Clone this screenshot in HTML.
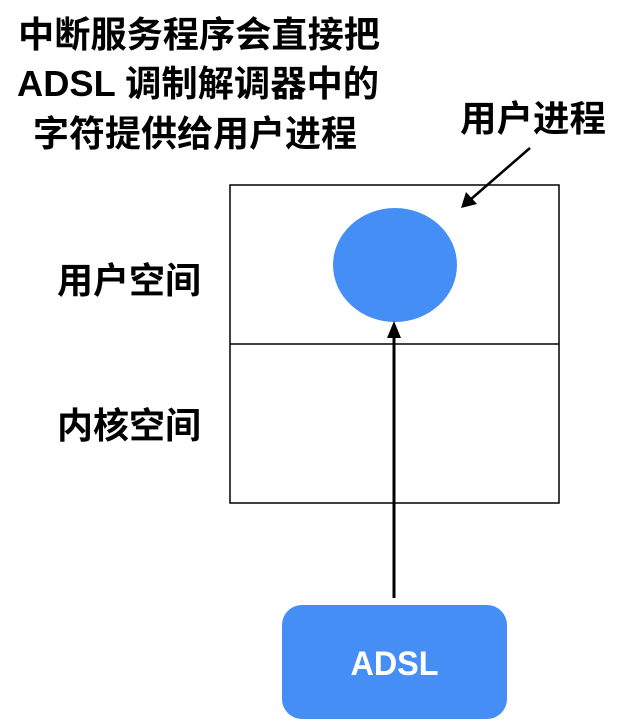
<!DOCTYPE html>
<html><head><meta charset="utf-8"><style>
body{margin:0;background:#fff;width:617px;height:727px;overflow:hidden;font-family:"Liberation Sans","Noto Sans CJK SC",sans-serif;}
</style></head><body>
<svg width="617" height="727" xmlns="http://www.w3.org/2000/svg" style="position:absolute;left:0;top:0">
<g font-family="Liberation Sans, Noto Sans CJK SC, sans-serif" font-weight="bold" fill="#000" font-size="36">
<text x="18" y="47" textLength="362" lengthAdjust="spacingAndGlyphs">中断服务程序会直接把</text>
<text x="17" y="96" textLength="362" lengthAdjust="spacingAndGlyphs">ADSL 调制解调器中的</text>
<text x="33" y="146" textLength="324" lengthAdjust="spacingAndGlyphs">字符提供给用户进程</text>
<text x="460" y="131" textLength="146" lengthAdjust="spacingAndGlyphs">用户进程</text>
<text x="57" y="293" textLength="144" lengthAdjust="spacingAndGlyphs">用户空间</text>
<text x="57" y="438" textLength="144" lengthAdjust="spacingAndGlyphs">内核空间</text>
</g>
<rect x="230" y="185" width="329" height="318" fill="none" stroke="#000" stroke-width="1.5"/>
<line x1="230" y1="344" x2="559" y2="344" stroke="#000" stroke-width="1.5"/>
<ellipse cx="395" cy="265" rx="62" ry="57" fill="#448ef6"/>
<line x1="394" y1="598" x2="394" y2="336" stroke="#000" stroke-width="3"/>
<polygon points="394,321 387,338 401,338" fill="#000"/>
<line x1="530" y1="148" x2="470" y2="200" stroke="#000" stroke-width="2.5"/>
<polygon points="461,208 466,192 477,204" fill="#000"/>
<rect x="282" y="605" width="225" height="114" rx="20" fill="#448ef6"/>
<text x="394.5" y="675" text-anchor="middle" font-family="Liberation Sans, sans-serif" font-size="34" font-weight="bold" fill="#fff" textLength="88" lengthAdjust="spacingAndGlyphs">ADSL</text>
</svg>
</body></html>
